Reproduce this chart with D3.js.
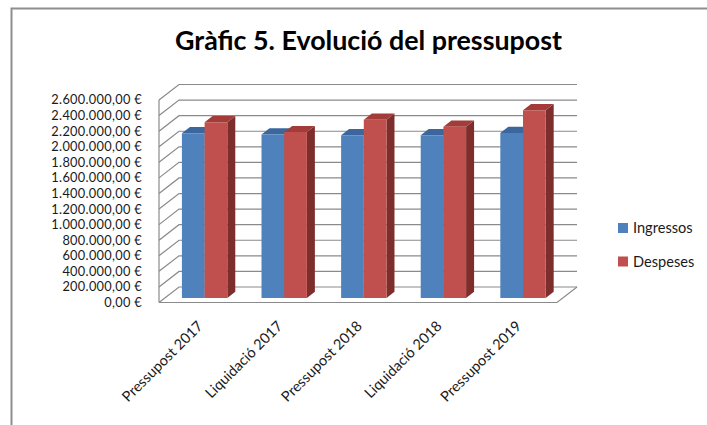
<!DOCTYPE html>
<html>
<head>
<meta charset="utf-8">
<script src="https://cdn.jsdelivr.net/npm/d3@7"></script>
<style>
  body { margin: 0; background: #fff; }
  svg { display: block; font-family: Lato, "Open Sans", sans-serif; }
</style>
</head>
<body>
<svg width="707" height="425"></svg>
<script>
var width = 707,
    height = 425;

// chart data
var categories = ['Pressupost 2017', 'Liquidació 2017', 'Pressupost 2018', 'Liquidació 2018', 'Pressupost 2019'];
var seriesNames = ['Ingressos', 'Despeses'];
var ingressos = [2115000, 2100000, 2090000, 2090000, 2120000];
var despeses = [2256000, 2130000, 2290000, 2200000, 2410000];
var yTicks = [0, 200000, 400000, 600000, 800000, 1000000, 1200000, 1400000,
              1600000, 1800000, 2000000, 2200000, 2400000, 2600000];
var titleText = 'Gràfic 5. Evolució del pressupost';

var colors = {
    front: ['#4F81BD', '#C0504D'],
    top: ['#3B679C', '#A33C39'],
    side: ['#2F5480', '#7D2E2C']
};

// depth of the 3d box (oblique projection)
var DX = 20, DY = 15.5;
var barZ0 = 0.29, barZ1 = 0.69;

var x0 = d3.scaleBand().domain(categories).range([159, 557]);
var pairW = x0.bandwidth() * 0.57;
var x1 = d3.scaleBand().domain(seriesNames)
    .range([(x0.bandwidth() - pairW) / 2, (x0.bandwidth() + pairW) / 2]);
var y = d3.scaleLinear().domain([0, 2600000]).range([302.5, 100]);

var locale = d3.formatLocale({
    decimal: ',', thousands: '.', grouping: [3], currency: ['', ' €']
});
var fmt = locale.format('$,.2f');

function proj(px, v, z) {
    return [px + z * DX, y(v) - z * DY];
}

var svg = d3.select('svg');

// outer frame
svg.append('path')
    .attr('d', 'M11.5,425 L11.5,8.5 L707,8.5')
    .attr('fill', 'none')
    .attr('stroke', '#8e8e8e')
    .attr('stroke-width', 2);

// title
var title = svg.append('text')
    .attr('x', 368.5)
    .attr('y', 50)
    .attr('text-anchor', 'middle')
    .attr('font-weight', 'bold')
    .attr('font-size', 24)
    .attr('fill', '#000')
    .text(titleText);

function fitFont(sel, target) {
    var fs = +sel.attr('font-size');
    var w = sel.node().getComputedTextLength();
    sel.attr('font-size', (fs * target / w).toFixed(2));
}
fitFont(title, 387);

var grid = svg.append('g')
    .attr('fill', 'none')
    .attr('stroke', '#8a8a8a')
    .attr('stroke-width', 1.2);

var xl = x0.range()[0], xr = x0.range()[1];

// back wall and left wall gridlines
yTicks.forEach(function (t) {
    var a = proj(xl, t, 0), b = proj(xl, t, 1), c = proj(xr, t, 1);
    grid.append('path')
        .attr('d', 'M' + a + 'L' + b + 'L' + c);
});

// left wall front edge
grid.append('path')
    .attr('d', 'M' + proj(xl, 0, 0) + 'L' + proj(xl, yTicks[yTicks.length - 1], 0));

// floor
grid.append('path')
    .attr('d', 'M' + proj(xl, 0, 0) + 'L' + proj(xr, 0, 0) + 'L' + proj(xr, 0, 1));

// y labels (kept small enough that the line boxes do not overlap)
var yLabels = svg.append('g')
    .attr('font-size', 12.8)
    .attr('letter-spacing', 0.3)
    .attr('fill', '#1a1a1a')
    .attr('text-anchor', 'end');
yLabels.selectAll('text')
    .data(yTicks)
    .enter().append('text')
    .attr('x', 142)
    .attr('y', function (d) { return y(d); })
    .attr('dy', '0.35em')
    .text(function (d) { return fmt(d); });

// bars
var series = [ingressos, despeses];
var bars = svg.append('g');
categories.forEach(function (cat, i) {
    series.forEach(function (vals, s) {
        var v = vals[i];
        var xa = x0(cat) + x1(seriesNames[s]);
        var xb = xa + x1.bandwidth();
        var fTL = proj(xa, v, barZ0), fTR = proj(xb, v, barZ0),
            fBR = proj(xb, 0, barZ0), fBL = proj(xa, 0, barZ0);
        var bTL = proj(xa, v, barZ1), bTR = proj(xb, v, barZ1),
            bBR = proj(xb, 0, barZ1);
        var g = bars.append('g');
        g.append('path')
            .attr('d', 'M' + fTR + 'L' + bTR + 'L' + bBR + 'L' + fBR + 'Z')
            .attr('fill', colors.side[s]);
        g.append('path')
            .attr('d', 'M' + fTL + 'L' + fTR + 'L' + bTR + 'L' + bTL + 'Z')
            .attr('fill', colors.top[s]);
        g.append('path')
            .attr('d', 'M' + fTL + 'L' + fTR + 'L' + fBR + 'L' + fBL + 'Z')
            .attr('fill', colors.front[s]);
    });
});

// category labels, rotated
svg.append('g')
    .attr('font-size', 14.5)
    .attr('fill', '#1a1a1a')
    .attr('text-anchor', 'end')
    .selectAll('text')
    .data(categories)
    .enter().append('text')
    .attr('transform', function (d) {
        var cx = x0(d) + x0.bandwidth() / 2 + 5;
        return 'translate(' + cx + ',327) rotate(-45)';
    })
    .text(function (d) { return d; });

// legend
var legend = svg.append('g')
    .attr('font-size', 14.6)
    .attr('fill', '#1a1a1a');
seriesNames.forEach(function (name, s) {
    var ly = 228 + s * 33.5;
    legend.append('rect')
        .attr('x', 618)
        .attr('y', ly - 5)
        .attr('width', 10)
        .attr('height', 10)
        .attr('fill', colors.front[s]);
    legend.append('text')
        .attr('x', 633)
        .attr('y', ly)
        .attr('dy', '0.35em')
        .text(name);
});
</script>
</body>
</html>
